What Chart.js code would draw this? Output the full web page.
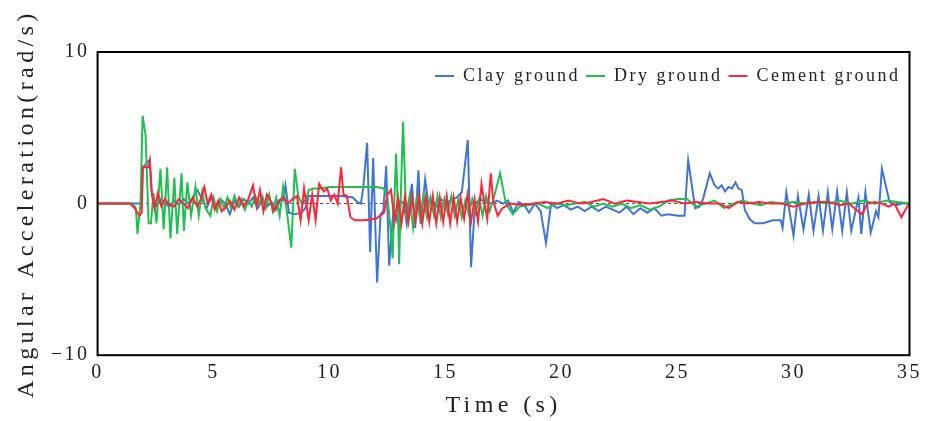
<!DOCTYPE html>
<html>
<head>
  <meta charset="utf-8" />
  <script src="https://cdn.jsdelivr.net/npm/chart.js@4.4.1/dist/chart.umd.min.js"></script>
  <style>
    body { margin:0; background:#fff; width:928px; height:421px; overflow:hidden; }
    #wrap { width:928px; height:421px; }
  </style>
</head>
<body>
<div id="wrap"><canvas id="chart"></canvas></div>
<script>
// time (s) / angular acceleration (rad/s)
const clayT = [0, 1.9, 1.95, 2.25, 2.35, 2.5, 2.7, 2.9, 3.1, 3.3,
  3.5, 3.7, 3.9, 4.1, 4.3, 4.5, 4.7, 4.9, 5.1, 5.3,
  5.5, 5.7, 5.9, 6.1, 6.3, 6.5, 6.7, 6.9, 7.1, 7.3,
  7.5, 7.7, 7.85, 8.0, 8.1, 8.25, 8.5, 8.8, 9.0, 9.1,
  9.5, 10.0, 10.5, 11.0, 11.2, 11.35, 11.45, 11.62, 11.75, 11.88,
  12.05, 12.2, 12.32, 12.44, 12.57, 12.76, 12.9, 13.05, 13.19, 13.33,
  13.55, 13.69, 13.83, 13.93, 14.12, 14.26, 14.48, 14.65, 14.8, 15.0,
  15.2, 15.48, 15.7, 15.96, 16.1, 16.27, 16.49, 16.7, 16.99, 17.21,
  17.49, 17.7, 17.92, 18.15, 18.4, 18.6, 18.85, 19.1, 19.33, 19.55,
  19.8, 20.1, 20.4, 20.7, 21.0, 21.3, 21.6, 21.9, 22.2, 22.5,
  22.8, 23.1, 23.4, 23.7, 24.0, 24.3, 24.6, 25.0, 25.3, 25.46,
  25.76, 25.95, 26.1, 26.39, 26.6, 26.75, 26.9, 27.05, 27.2, 27.35,
  27.5, 27.62, 27.77, 27.9, 28.1, 28.32, 28.7, 29.1, 29.45, 29.53,
  29.69, 30.0, 30.19, 30.43, 30.66, 30.86, 31.08, 31.27, 31.48, 31.67,
  31.88, 32.1, 32.3, 32.49, 32.8, 32.92, 33.1, 33.33, 33.56, 33.66,
  33.81, 34.14, 34.42, 34.7, 35];
const clayV = [0, 0, 2.4, 2.9, 0.5, -0.2, 0.3, 0.0, -0.2, 0.2,
  -0.1, 0.3, 0.0, 0.4, 0.9, 0.3, -0.3, 0.4, -0.2, 0.3,
  0.0, -0.7, 0.2, -0.2, 0.3, 0.0, 0.4, -0.3, 0.2, -0.2,
  0.1, -0.4, 0.2, 0.2, 1.2, -0.6, -0.7, -0.6, -0.2, 0.5,
  0.5, 0.5, 0.5, 0.4, 0.1, 0.0, 1.0, 4.0, -3.2, 3.0,
  -5.2, -0.7, -0.5, 2.5, -4.1, -0.25, -1.1, 0.2, 0.0, -1.35,
  1.3, -1.6, 2.2, -1.35, 1.6, 0.0, 0.1, -0.2, 0.3, 0.0,
  0.2, 0.4, 0.75, 4.2, -4.2, 0.0, 0.3, 0.1, 0.0, 0.2,
  0.0, 0.2, -0.6, 0.1, -0.1, -0.6, 0.0, -0.5, -2.6, 0.0,
  -0.3, -0.1, -0.4, -0.2, -0.5, -0.2, -0.5, -0.2, -0.4, -0.6,
  -0.2, -0.7, -0.3, -0.6, -0.3, -0.8, -0.7, -0.8, -0.8, 2.85,
  -0.3, -0.2, 0.3, 2.0, 1.2, 1.0, 1.2, 0.8, 1.1, 1.0,
  1.4, 1.0, 0.9, -0.4, -1.0, -1.3, -1.3, -1.1, -1.1, -1.6,
  0.75, -2.1, 0.5, -1.7, 0.6, -1.8, 0.5, -1.8, 0.75, -1.7,
  0.8, -1.8, 0.75, -1.8, 0.4, -2.0, 0.75, -1.9, -0.5, -0.9,
  2.3, 0.1, -0.1, 0.0, 0.0];

const dryT = [0, 1.5, 1.65, 1.72, 1.85, 1.94, 2.07, 2.2, 2.3, 2.41,
  2.54, 2.71, 2.85, 3.0, 3.14, 3.31, 3.43, 3.62, 3.72, 3.87,
  4.03, 4.22, 4.36, 4.51, 4.65, 4.86, 5.0, 5.15, 5.3, 5.45,
  5.6, 5.75, 5.9, 6.05, 6.2, 6.35, 6.5, 6.65, 6.8, 6.95,
  7.1, 7.25, 7.4, 7.55, 7.7, 7.85, 8.0, 8.15, 8.35, 8.5,
  8.65, 8.8, 9.0, 9.1, 9.3, 9.6, 10.0, 10.5, 11.0, 11.5,
  12.0, 12.35, 12.5, 12.62, 12.72, 12.8, 12.87, 12.95, 13.0, 13.08,
  13.17, 13.3, 13.45, 13.6, 13.75, 13.9, 14.05, 14.2, 14.35, 14.5,
  14.65, 14.8, 14.95, 15.1, 15.25, 15.4, 15.55, 15.7, 15.85, 16.0,
  16.15, 16.3, 16.45, 16.6, 16.75, 16.9, 17.05, 17.35, 17.6, 17.9,
  18.2, 18.6, 19.0, 19.4, 19.8, 20.2, 20.6, 21.0, 21.4, 21.8,
  22.2, 22.6, 23.0, 23.4, 23.8, 24.2, 24.6, 25.0, 25.4, 25.8,
  26.2, 26.6, 27.0, 27.4, 27.8, 28.2, 28.6, 29.0, 29.5, 30.0,
  30.5, 31.0, 31.5, 32.0, 32.5, 33.0, 33.5, 34.0, 34.5, 35];
const dryV = [0, 0, -0.3, -2.0, 0.0, 5.8, 4.5, -1.3, -1.3, 0.7,
  -1.3, 2.3, -1.7, 2.4, -2.3, 1.7, -2.0, 2.0, -1.8, 1.4,
  -0.8, 1.1, -0.8, 0.8, -0.3, -0.8, 0.4, -0.5, 0.3, -0.3,
  0.4, -0.3, 0.5, -0.2, 0.3, -0.4, 0.2, -0.2, 0.5, 0.0,
  0.5, -0.3, 0.6, -0.5, 0.4, -0.8, 1.1, -0.4, -2.9, 2.3,
  0.5, 0.0, 0.3, 0.9, 1.0, 1.0, 1.1, 1.1, 1.1, 1.1,
  1.1, 1.0, 0.3, -1.5, -3.6, 0.5, 3.3, -0.5, -4.0, 1.0,
  5.4, -0.7, 0.5, -1.6, 0.3, -1.0, 0.6, -0.9, 0.4, -0.8,
  0.5, -0.9, 0.3, -0.7, 0.5, -0.8, 0.3, -0.9, 0.2, -0.7,
  0.3, -0.6, 0.3, -0.8, 0.5, -0.5, 0.2, 2.0, 0.0, -0.7,
  -0.2, -0.1, 0.0, -0.3, 0.0, -0.1, 0.0, 0.1, -0.2, 0.0,
  -0.2, 0.0, -0.3, -0.1, -0.4, -0.2, 0.2, 0.3, 0.3, -0.2,
  0.0, 0.2, -0.3, 0.0, 0.2, 0.0, -0.1, 0.1, 0.0, 0.1,
  0.0, 0.1, 0.0, 0.2, 0.0, 0.2, 0.0, 0.2, 0.1, 0.0];

const cementT = [0, 1.4, 1.6, 1.8, 1.9, 1.95, 2.2, 2.25, 2.32, 2.45,
  2.6, 2.75, 2.9, 3.1, 3.3, 3.5, 3.7, 3.9, 4.1, 4.3,
  4.45, 4.6, 4.75, 4.9, 5.05, 5.2, 5.35, 5.5, 5.7, 5.9,
  6.1, 6.3, 6.5, 6.7, 6.85, 7.0, 7.15, 7.3, 7.45, 7.6,
  7.8, 8.0, 8.2, 8.4, 8.6, 8.75, 8.9, 9.1, 9.25, 9.4,
  9.55, 9.75, 9.9, 10.05, 10.2, 10.35, 10.5, 10.6, 10.75, 10.9,
  11.1, 11.5, 12.0, 12.35, 12.5, 12.65, 12.8, 12.95, 13.1, 13.25,
  13.4, 13.55, 13.7, 13.85, 14.0, 14.15, 14.3, 14.45, 14.6, 14.75,
  14.9, 15.05, 15.2, 15.35, 15.5, 15.65, 15.8, 15.95, 16.1, 16.25,
  16.4, 16.55, 16.65, 16.8, 16.95, 17.05, 17.25, 17.45, 17.8, 18.3,
  18.8, 19.3, 19.8, 20.3, 20.8, 21.3, 21.8, 22.3, 22.8, 23.3,
  23.8, 24.3, 24.8, 25.3, 25.8, 26.3, 26.8, 27.2, 27.6, 28.0,
  28.5, 29.0, 29.5, 30.0, 30.5, 31.0, 31.5, 32.0, 32.4, 32.7,
  32.95, 33.2, 33.5, 33.8, 34.1, 34.35, 34.65, 34.9, 35];
const cementV = [0, 0, -0.3, -0.8, -0.6, 2.4, 2.4, 2.8, 0.9, -0.3,
  0.7, -0.2, 0.3, -0.1, -0.2, 0.3, 0.0, -0.3, 0.4, -0.2,
  0.3, 1.1, 0.0, 0.6, -0.4, 0.2, -0.5, -0.3, 0.2, -0.4,
  0.4, -0.2, 0.3, 1.2, -0.2, 0.9, -0.5, 0.6, 0.2, -0.5,
  0.2, 0.4, 0.0, 0.3, 0.5, -1.1, 1.0, -1.1, 0.6, -1.1,
  1.3, 0.8, 1.0, 0.2, 0.6, 0.0, 2.4, 0.6, 0.5, -0.9,
  -1.1, -1.1, -1.0, -0.6, 0.6, 0.9, -1.2, 0.4, -1.3, 0.5,
  -1.2, 0.4, -1.2, 0.5, -1.3, 0.4, -1.2, 0.5, -1.3, 0.4,
  -1.2, 0.5, -1.3, 0.4, -1.2, 0.4, -1.0, 0.6, -1.2, 0.3,
  -1.2, 1.3, 0.3, -1.0, 2.0, 0.2, -0.8, -0.3, 0.0, -0.1,
  0.0, 0.1, 0.0, 0.2, 0.0, 0.1, 0.3, 0.0, 0.2, 0.1,
  0.0, 0.1, 0.2, 0.0, 0.1, 0.0, 0.0, -0.3, 0.1, 0.0,
  0.1, 0.0, 0.0, -0.2, 0.0, 0.1, 0.1, -0.1, 0.0, -0.4,
  -0.7, 0.0, 0.1, 0.0, -0.2, 0.0, -0.9, -0.2, 0.0];

const seriesNames = ["Clay ground", "Dry ground", "Cement ground"];
const seriesColors = ["#3f74d8", "#1fc050", "#ff2438"];

const pts = (ts, vs) => ts.map((t, i) => ({ x: t, y: vs[i] }));

const FONT = "'Liberation Serif', 'DejaVu Serif', serif";
const TEXT_SP = "2.5px", TITLE_SP = "4.4px";

// wide letter spacing like the source typeface; legend sits inside the plot
const tweaks = {
  id: "tweaks",
  beforeLayout(c) {
    c.ctx.letterSpacing = TEXT_SP;
    Object.values(c.scales).forEach(s => {
      if (s._sp) return;
      const f = s.drawTitle.bind(s);
      s.drawTitle = function () {
        const ctx = this.ctx, old = ctx.letterSpacing;
        ctx.letterSpacing = TITLE_SP; f(); ctx.letterSpacing = old;
      };
      s._sp = true;
    });
    const lg = c.legend;
    if (lg && !lg._sp) {
      const fit = lg.fit.bind(lg);
      lg.fit = function () { fit(); this.height = 0; };
      lg._sp = true;
    }
  },
  afterLayout(c) {
    const lg = c.legend;
    lg.top = 61; lg.bottom = 101;
    lg.right = c.chartArea.right - 3;
  },
  beforeDraw(c) { c.ctx.letterSpacing = TEXT_SP; }
};

// black box round the plot
const frame = {
  id: "frame",
  afterDatasetsDraw(c) {
    const a = c.chartArea, ctx = c.ctx;
    ctx.save();
    ctx.strokeStyle = "#000";
    ctx.lineWidth = 2;
    ctx.strokeRect(a.left, a.top, a.right - a.left, a.bottom - a.top);
    ctx.restore();
  }
};

function mk(i, ts, vs, order) {
  return {
    label: seriesNames[i], data: pts(ts, vs),
    borderColor: seriesColors[i], backgroundColor: seriesColors[i],
    borderWidth: 2, pointRadius: 0, tension: 0, order: order
  };
}

new Chart(document.getElementById("chart"), {
  type: "line",
  data: {
    datasets: [
      mk(0, clayT, clayV, 2),
      mk(1, dryT, dryV, 1),
      mk(2, cementT, cementV, 0)
    ]
  },
  options: {
    responsive: true, maintainAspectRatio: false, animation: false,
    layout: { padding: { left: 12, top: 52, right: 18, bottom: 1 } },
    plugins: {
      tooltip: { enabled: false },
      legend: {
        position: "top", align: "end",
        labels: {
          color: "#222", font: { family: FONT, size: 18 },
          usePointStyle: true, pointStyle: "line", pointStyleWidth: 19,
          padding: 6, boxHeight: 2,
          sort: (a, b) => a.datasetIndex - b.datasetIndex
        }
      }
    },
    scales: {
      x: {
        type: "linear", min: 0, max: 35,
        grid: { display: false, drawTicks: false },
        border: { display: false },
        ticks: { stepSize: 5, color: "#222", font: { family: FONT, size: 20 }, padding: 6, maxRotation: 0 },
        title: { display: true, text: "Time (s)", color: "#222", font: { family: FONT, size: 24 }, padding: { top: 0, bottom: 0 } }
      },
      y: {
        min: -10, max: 10,
        grid: {
          drawTicks: false,
          color: ctx => ctx.tick && ctx.tick.value === 0 ? "#555" : "rgba(0,0,0,0)",
          lineWidth: 1
        },
        border: { display: false, dash: [3, 3] },
        ticks: {
          stepSize: 10, color: "#222", font: { family: FONT, size: 20 }, padding: 8,
          callback: v => String(v).replace("-", "\u2212")
        },
        title: { display: true, text: "Angular Acceleration(rad/s)", color: "#222", font: { family: FONT, size: 24 }, padding: { top: 0, bottom: 2 } }
      }
    }
  },
  plugins: [tweaks, frame]
});
</script>
</body>
</html>
